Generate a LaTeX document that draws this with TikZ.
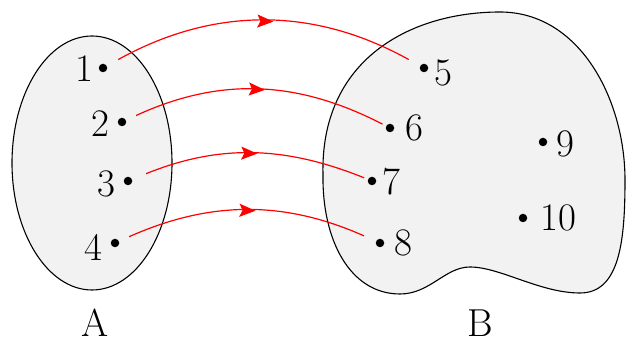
\documentclass[tikz,border=0pt]{standalone}
\usepackage{amsmath,amssymb}
\usepackage{tikz}
\usetikzlibrary{arrows.meta,decorations.markings}

\begin{document}
\begin{tikzpicture}[x=1pt, y=-1pt,
    setfill/.style={draw=black, line width=1.1pt, fill=black!5},
    dot/.style={circle, fill=black, inner sep=0pt, minimum size=8.5pt},
    num/.style={font=\fontsize{39}{39}\selectfont, inner sep=0pt},
    maparrow/.style={red, line width=1.2pt,
      postaction={decorate},
      decoration={markings, mark=at position 0.53 with {\arrow{Stealth[length=16pt, width=13pt, inset=3pt]}}}}]
  \useasboundingbox (0,0) rectangle (627,347);
  % the two sets
  \draw[setfill] (92,163) ellipse [x radius=80, y radius=127];
  \draw[setfill] (500,12) .. controls (410,12) and (320,60) .. (323,175)
    .. controls (322,240) and (350,294) .. (400,294)
    .. controls (430,294) and (445,267) .. (470,267)
    .. controls (500,267) and (540,293) .. (580,293)
    .. controls (620,293) and (625,240) .. (625,180)
    .. controls (625,100) and (580,12) .. (500,12) -- cycle;
  % elements of A
  \node[dot] (a1) at (103,68) {};
  \node[dot] (a2) at (122,122) {};
  \node[dot] (a3) at (128,181) {};
  \node[dot] (a4) at (115,243) {};
  \node[num] (t1) at (84,69) {1};
  \node[num] (t2) at (100,124) {2};
  \node[num] (t3) at (106,184) {3};
  \node[num] (t4) at (93,247) {4};
  % elements of B
  \node[dot] (b5) at (424,68) {};
  \node[dot] (b6) at (390,128) {};
  \node[dot] (b7) at (372,181) {};
  \node[dot] (b8) at (380,243) {};
  \node[dot] (b9) at (543,142) {};
  \node[dot] (b10) at (523,218) {};
  \node[num] (t5) at (443,73) {5};
  \node[num] (t6) at (414,128) {6};
  \node[num] (t7) at (391,182) {7};
  \node[num] (t8) at (403,243) {8};
  \node[num] (t9) at (565,144) {9};
  \node[num] (t10) at (558,218) {10};
  % set names
  \node[num] (nA) at (95,323) {A};
  \node[num] (nB) at (480,323) {B};
  % the mapping
  \draw[maparrow, shorten <=13pt, shorten >=13pt] (a1) to[bend left=29] (b5);
  \draw[maparrow, shorten <=11pt, shorten >=4pt] (a2) to[bend left=26] (b6);
  \draw[maparrow, shorten <=15pt, shorten >=4pt] (a3) to[bend left=22] (b7);
  \draw[maparrow, shorten <=11pt, shorten >=13pt] (a4) to[bend left=24] (b8);
\end{tikzpicture}
\end{document}
